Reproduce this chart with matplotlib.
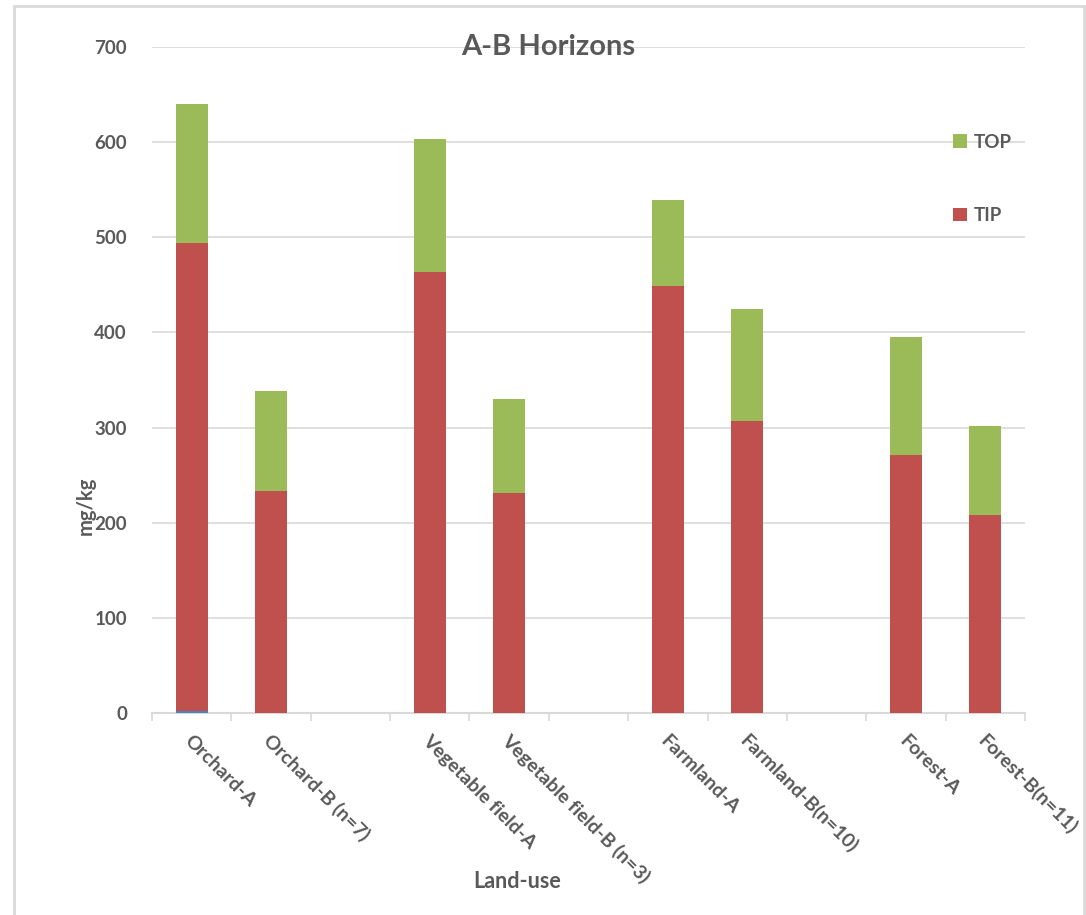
import matplotlib
matplotlib.use("Agg")
import matplotlib.pyplot as plt
from matplotlib.patches import Rectangle, Patch
import numpy as np

plt.rcParams['font.family'] = ['Lato', 'DejaVu Sans']

categories = ["Orchard-A", "Orchard-B (n=7)", "",
              "Vegetable field-A", "Vegetable field-B (n=3)", "",
              "Farmland-A", "Farmland-B(n=10)", "",
              "Forest-A", "Forest-B(n=11)"]
base_values = [2, 0, 0, 0, 0, 0, 0, 0, 0, 0, 0]
tip_values = [492, 233, 0, 464, 231, 0, 449, 307, 0, 271, 208]
top_values = [146, 105, 0, 139, 99, 0, 90, 118, 0, 124, 94]
y_ticks = [0, 100, 200, 300, 400, 500, 600, 700]

C_BLUE = "#4F81BD"
C_TIP = "#C0504D"
C_TOP = "#9BBB59"
C_TEXT = "#595959"
C_GRID = "#D9D9D9"

W, H = 1086, 915
fig = plt.figure(figsize=(W / 100, H / 100), dpi=100)

# outer chart border
fig.patches.append(Rectangle((14 / W, -0.01), (1084 - 14) / W, (H - 6) / H + 0.01,
                             transform=fig.transFigure, fill=False,
                             edgecolor=C_GRID, linewidth=2))

ax = fig.add_axes([152 / W, 1 - 713 / H, (1025 - 152) / W, (713 - 47) / H])

x = np.arange(len(categories))
bw = 0.40
base = np.array(base_values)
tip = np.array(tip_values)
top = np.array(top_values)
ax.bar(x, base, bw, color=C_BLUE, zorder=3)
ax.bar(x, tip, bw, bottom=base, color=C_TIP, zorder=3)
ax.bar(x, top, bw, bottom=base + tip, color=C_TOP, zorder=3)

ax.set_xlim(-0.5, len(categories) - 0.5)
ax.set_ylim(0, 700)
ax.set_yticks(y_ticks)
ax.set_yticklabels([str(v) for v in y_ticks], fontsize=13.5, fontweight='bold', color=C_TEXT)
ax.yaxis.grid(True, color=C_GRID, linewidth=1.2, zorder=0)
ax.tick_params(axis='y', length=0, pad=18)

for s in ['top', 'right', 'left']:
    ax.spines[s].set_visible(False)
ax.spines['bottom'].set_color(C_GRID)
ax.spines['bottom'].set_linewidth(1.5)

# tick marks sit on category boundaries
ax.set_xticks(np.arange(len(categories) + 1) - 0.5)
ax.set_xticklabels([])
ax.tick_params(axis='x', length=6, color=C_GRID, width=1.2)

for xi, lab in zip(x, categories):
    if lab:
        ax.annotate(lab, xy=(xi, 0), xycoords=('data', 'axes fraction'),
                    xytext=(-3, -18), textcoords='offset points',
                    rotation=-45, rotation_mode='anchor', ha='left', va='center',
                    fontsize=14, fontweight='bold', color=C_TEXT)

fig.text(548 / W, 1 - 47 / H, "A-B Horizons", ha='center', va='center',
         fontsize=21, fontweight='bold', color=C_TEXT)
fig.text(86 / W, 1 - 506 / H, "mg/kg", rotation=90, ha='center', va='center',
         fontsize=14.5, fontweight='bold', color=C_TEXT)
fig.text(517 / W, 1 - 882 / H, "Land-use", ha='center', va='center',
         fontsize=15.5, fontweight='bold', color=C_TEXT)

handles = [Patch(facecolor=C_TOP), Patch(facecolor=C_TIP)]
fig.legend(handles, ["TOP", "TIP"], loc='upper left',
           bbox_to_anchor=(936 / W, 1 - 117 / H), frameon=False,
           handlelength=0.75, handleheight=0.75, handletextpad=0.35,
           labelspacing=3.0, prop={'size': 13.5, 'weight': 'bold'},
           labelcolor=C_TEXT)

fig.savefig("out.png", dpi=100, facecolor='white')
